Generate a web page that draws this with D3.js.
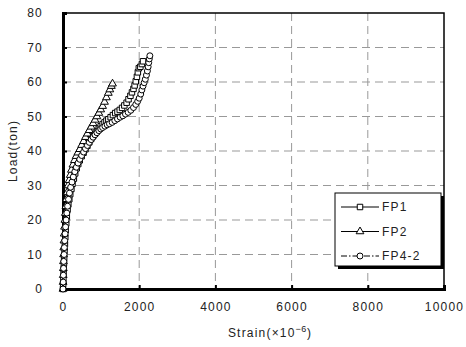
<!DOCTYPE html>
<html>
<head>
<meta charset="utf-8">
<script src="https://cdn.jsdelivr.net/npm/d3@7/dist/d3.min.js"></script>
<style>
  body { margin: 0; background: #fff; }
  svg text { font-family: "Liberation Sans", Arial, sans-serif; font-size: 12px; fill: #222; letter-spacing: 1.2px; }
  .grid line { stroke: #999; stroke-dasharray: 8,5; stroke-width: 1; }
</style>
</head>
<body>
<svg width="466" height="347"></svg>
<script>
const xTicks = [0, 2000, 4000, 6000, 8000, 10000];
const yTicks = [0, 10, 20, 30, 40, 50, 60, 70, 80];

const fp1Strain = [0, 5, 10, 15, 20, 25, 30, 40, 50, 60, 70, 85, 100, 120, 140, 165, 190, 220, 250, 285, 320, 360, 400, 440, 490, 540, 590, 640, 690, 740, 790, 840, 890, 940, 990, 1040, 1090, 1140, 1190, 1250, 1310, 1370, 1430, 1490, 1550, 1610, 1670, 1720, 1770, 1810, 1850, 1880, 1910, 1940, 1965, 1990, 2030, 2070, 2100];
const fp1Load = [0, 1.5, 3, 4.5, 6, 7.5, 9, 11, 13, 15, 17, 19, 21, 23, 24.5, 26, 27.5, 29, 30.5, 32, 33.5, 35, 36.2, 37.3, 38.5, 39.5, 40.5, 41.5, 42.5, 43.5, 44.3, 45, 45.8, 46.5, 47.2, 47.8, 48.3, 48.8, 49.2, 49.8, 50.4, 51, 51.4, 51.9, 52.5, 53.2, 54, 55, 56, 57, 58, 59, 60.2, 61.5, 62.8, 64, 64.4, 65.2, 66];

const fp2Strain = [0, 3, 6, 9, 12, 16, 20, 25, 32, 40, 50, 62, 75, 90, 110, 135, 160, 190, 220, 260, 300, 345, 390, 440, 490, 540, 590, 640, 690, 740, 790, 840, 890, 940, 990, 1040, 1090, 1140, 1190, 1230, 1270, 1300];
const fp2Load = [0, 2, 4, 6, 8, 10, 12, 14, 16, 18, 20, 22, 24, 26, 28, 30, 31.5, 33, 34.5, 36, 37.3, 38.5, 39.5, 40.5, 41.7, 42.8, 44, 45, 46, 47, 48, 49, 50, 51, 52, 53, 54.2, 55.5, 56.8, 57.8, 58.8, 59.5];

const fp42Strain = [0, 5, 10, 15, 20, 28, 36, 45, 55, 68, 82, 100, 120, 145, 170, 200, 235, 270, 310, 350, 395, 440, 490, 540, 590, 640, 690, 740, 790, 840, 890, 940, 990, 1040, 1100, 1160, 1220, 1290, 1360, 1430, 1500, 1570, 1640, 1710, 1780, 1850, 1910, 1960, 2000, 2040, 2070, 2100, 2130, 2160, 2190, 2215, 2235, 2250, 2265, 2280];
const fp42Load = [0, 2, 4, 6, 8, 10, 12, 14, 16, 18, 20, 22, 24, 26, 27.8, 29.5, 31, 32.5, 34, 35.3, 36.5, 37.6, 38.7, 39.7, 40.7, 41.6, 42.5, 43.3, 44, 44.7, 45.3, 45.9, 46.4, 46.8, 47.2, 47.6, 47.9, 48.3, 48.8, 49.3, 49.8, 50.2, 50.7, 51.2, 51.8, 52.6, 53.5, 54.4, 55.3, 56.5, 57.7, 58.8, 59.8, 60.8, 62, 63.2, 64.4, 65.6, 66.7, 67.6];

const seriesNames = ["FP1", "FP2", "FP4-2"];
const seriesSymbols = ["square", "triangle", "circle"];
const seriesDash = ["none", "none", "6,2,1.5,2"];

const zip = (xs, ys) => xs.map((x, i) => ({ x: x, y: ys[i] }));
const series = [
  zip(fp1Strain, fp1Load),
  zip(fp2Strain, fp2Load),
  zip(fp42Strain, fp42Load),
];

const svg = d3.select("svg");
const plot = { left: 63, right: 444, top: 13, bottom: 289 };

const x = d3.scaleLinear().domain([0, 10000]).range([plot.left, plot.right]);
const y = d3.scaleLinear().domain([0, 80]).range([plot.bottom, plot.top]);

// grid
const grid = svg.append("g").attr("class", "grid");
grid.selectAll(".gx")
  .data(xTicks.filter((d) => d > 0 && d < 10000))
  .enter().append("line")
  .attr("x1", (d) => x(d)).attr("x2", (d) => x(d))
  .attr("y1", plot.top).attr("y2", plot.bottom);
grid.selectAll(".gy")
  .data(yTicks.filter((d) => d > 0 && d < 80))
  .enter().append("line")
  .attr("x1", plot.left).attr("x2", plot.right)
  .attr("y1", (d) => y(d)).attr("y2", (d) => y(d));

// frame
svg.append("rect")
  .attr("x", plot.left).attr("y", plot.top)
  .attr("width", plot.right - plot.left).attr("height", plot.bottom - plot.top)
  .attr("fill", "none").attr("stroke", "#000").attr("stroke-width", 1.5);

// axes with inward ticks
const xAxis = d3.axisBottom(x).tickValues(xTicks).tickSize(-4).tickPadding(13).tickFormat(d3.format("d"));
const yAxis = d3.axisLeft(y).tickValues(yTicks).tickSize(-4).tickPadding(20);

const gx = svg.append("g").attr("transform", `translate(0,${plot.bottom})`).call(xAxis);
const gy = svg.append("g").attr("transform", `translate(${plot.left},0)`).call(yAxis);
[gx, gy].forEach((g) => {
  g.select(".domain").attr("stroke", "#000").attr("stroke-width", 3);
  g.selectAll(".tick line").attr("stroke", "#000").attr("stroke-width", 2);
  g.selectAll(".tick text").attr("font-family", null).attr("font-size", null).attr("fill", "#222");
});
gy.selectAll(".tick text").attr("text-anchor", "end");

// axis titles
const xt = svg.append("text")
  .attr("x", 270).attr("y", 337)
  .attr("text-anchor", "middle");
xt.append("tspan").text("Strain(×10");
xt.append("tspan").attr("dy", -5).attr("font-size", "9px").style("letter-spacing", "0.5px").text("−6");
xt.append("tspan").attr("dy", 5).text(")");

svg.append("text")
  .attr("transform", "translate(17,151) rotate(-90)")
  .attr("text-anchor", "middle")
  .text("Load(ton)");

// series
const symbolGen = (i) => {
  if (seriesSymbols[i] === "square") return d3.symbol(d3.symbolSquare, 30)();
  if (seriesSymbols[i] === "triangle") return d3.symbol(d3.symbolTriangle, 26)();
  return d3.symbol(d3.symbolCircle, 28)();
};
const line = d3.line().x((d) => x(d.x)).y((d) => y(d.y));

series.forEach((data, i) => {
  const g = svg.append("g");
  g.append("path")
    .datum(data)
    .attr("d", line)
    .attr("fill", "none")
    .attr("stroke", "#000")
    .attr("stroke-width", 1)
    .attr("stroke-dasharray", seriesDash[i]);
  g.selectAll("path.m")
    .data(data)
    .enter().append("path")
    .attr("class", "m")
    .attr("d", symbolGen(i))
    .attr("transform", (d) => `translate(${x(d.x)},${y(d.y)})`)
    .attr("fill", "#fff")
    .attr("stroke", "#000")
    .attr("stroke-width", 1);
});

// legend
const lg = svg.append("g").attr("transform", "translate(335,193)");
lg.append("rect").attr("x", 3).attr("y", 3).attr("width", 106).attr("height", 73).attr("fill", "#000");
lg.append("rect").attr("width", 106).attr("height", 73).attr("fill", "#fff").attr("stroke", "#000").attr("stroke-width", 1);
seriesNames.forEach((name, i) => {
  const row = lg.append("g").attr("transform", `translate(0,${14 + i * 24.5})`);
  row.append("line")
    .attr("x1", 6).attr("x2", 44).attr("y1", 0).attr("y2", 0)
    .attr("stroke", "#000").attr("stroke-width", 1)
    .attr("stroke-dasharray", seriesDash[i]);
  row.append("path")
    .attr("d", symbolGen(i))
    .attr("transform", "translate(25,0)")
    .attr("fill", "#fff").attr("stroke", "#000");
  row.append("text")
    .attr("x", 47).attr("y", 0).attr("dy", "0.35em")
    .attr("font-size", "13px")
    .text(name);
});
</script>
</body>
</html>
